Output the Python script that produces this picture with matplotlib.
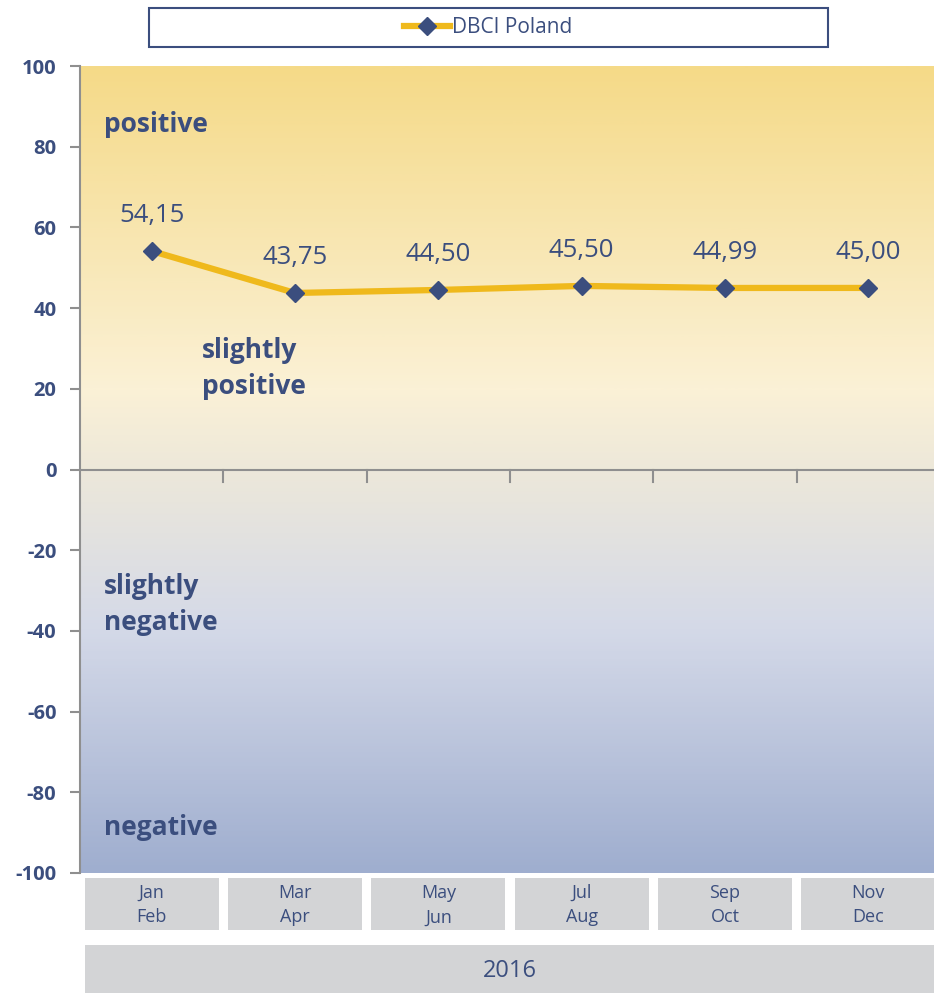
import numpy as np
import matplotlib.pyplot as plt
from matplotlib.colors import LinearSegmentedColormap
from matplotlib.patches import Rectangle
import matplotlib.transforms as mtransforms

# Datos
periodos = ["Jan\nFeb", "Mar\nApr", "May\nJun", "Jul\nAug", "Sep\nOct", "Nov\nDec"]
valores = [54.15, 43.75, 44.50, 45.50, 44.99, 45.00]
etiquetas = ["54,15", "43,75", "44,50", "45,50", "44,99", "45,00"]
anio = "2016"
serie = "DBCI Poland"
yticks = [100, 80, 60, 40, 20, 0, -20, -40, -60, -80, -100]

navy = "#3B4E7E"
gold = "#EFB91C"
gris = "#D3D4D6"

plt.rcParams['font.family'] = ['Open Sans', 'DejaVu Sans']

W, H = 934, 993
fig = plt.figure(figsize=(W / 100, H / 100), dpi=100)
ax = fig.add_axes([80 / W, 1 - 873 / H, 860 / W, (873 - 66) / H])

x = np.arange(len(valores))
ax.set_xlim(-0.5, len(valores) - 0.5)
ax.set_ylim(-100, 100)

# fondo degradado
cmap = LinearSegmentedColormap.from_list("fondo", [
    (0.0, "#9FAECF"),
    (0.3, "#D4D9E8"),
    (0.5, "#EDE8DA"),
    (0.6, "#FBF1D6"),
    (1.0, "#F5DA88"),
])
grad = np.linspace(0, 1, 400).reshape(-1, 1)
ax.imshow(grad, aspect='auto', cmap=cmap, origin='lower',
          extent=[-0.5, len(valores) - 0.5, -100, 100], zorder=0)

# linea del cero y marcas
ax.axhline(0, color="#8F8F8F", lw=1.5, zorder=1)
for xt in x[:-1] + 0.5:
    ax.plot([xt, xt], [0, -3], color="#8F8F8F", lw=1.5, zorder=1, clip_on=False)

ax.plot(x, valores, color=gold, lw=4.5, marker='D', markersize=9,
        markerfacecolor=navy, markeredgecolor=navy, zorder=3, label=serie)
for xi, v, t in zip(x, valores, etiquetas):
    ax.text(xi, v + 8.7, t, ha='center', va='center', fontsize=18.5, color=navy)

# zonas
ax.text(-0.33, 85.5, "positive", fontsize=19, fontweight='bold', color=navy, va='center')
ax.text(0.35, 25, "slightly\npositive", fontsize=19, fontweight='bold', color=navy,
        va='center', linespacing=1.45)
ax.text(-0.33, -33.5, "slightly\nnegative", fontsize=19, fontweight='bold', color=navy,
        va='center', linespacing=1.45)
ax.text(-0.33, -88.7, "negative", fontsize=19, fontweight='bold', color=navy, va='center')

for s in ['top', 'right', 'bottom']:
    ax.spines[s].set_visible(False)
ax.spines['left'].set_color("#8F8F8F")
ax.spines['left'].set_linewidth(1.5)
ax.set_xticks([])
ax.set_yticks(yticks)
ax.set_yticklabels([str(t) for t in yticks])
ax.tick_params(axis='y', colors="#8F8F8F", length=7, width=1.5, pad=10)
for lab in ax.get_yticklabels():
    lab.set_color(navy)
    lab.set_fontweight('bold')
    lab.set_fontsize(14.5)

# cajas de categorias
tr = mtransforms.blended_transform_factory(ax.transData, fig.transFigure)
for xi, p in zip(x, periodos):
    fig.add_artist(Rectangle((xi - 0.467, 1 - 930 / H), 0.934, 52 / H, transform=tr,
                             facecolor=gris, edgecolor='none'))
    fig.text(xi, 1 - 905 / H, p, transform=tr, ha='center', va='center',
             fontsize=13, color=navy, linespacing=1.5)
fig.add_artist(Rectangle((85 / W, 0), (934 - 85) / W, 48 / H, transform=fig.transFigure,
                         facecolor=gris, edgecolor='none'))
fig.text((85 + 934) / 2 / W, 1 - 971 / H, anio, ha='center', va='center',
         fontsize=17, color=navy)

# leyenda
fig.add_artist(Rectangle((149 / W, 1 - 47 / H), (828 - 149) / W, 39 / H,
                         transform=fig.transFigure, facecolor='white',
                         edgecolor=navy, lw=1.5))
leg = fig.legend(loc='center', bbox_to_anchor=(488 / W, 1 - 27.5 / H), frameon=False,
                 fontsize=15, handlelength=2.2, handletextpad=0.1)
for t in leg.get_texts():
    t.set_color(navy)

fig.savefig("out.png", dpi=100)
